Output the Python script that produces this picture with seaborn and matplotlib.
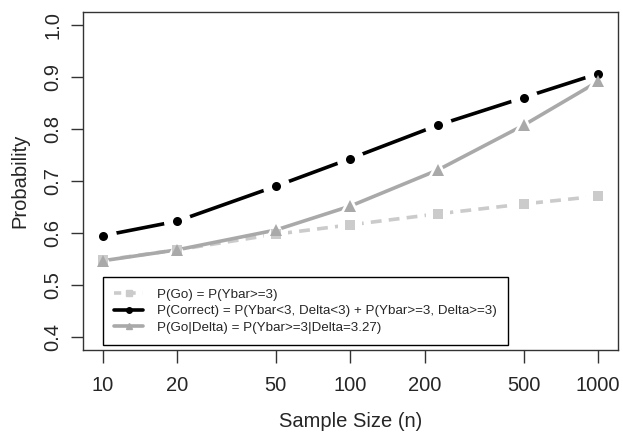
import numpy as np
import pandas as pd
import matplotlib
matplotlib.use("Agg")
import matplotlib.pyplot as plt
import seaborn as sns
from matplotlib.lines import Line2D

# values
sample_size = [10, 20, 50, 100, 225, 500, 1000]
p_go = [0.548, 0.568, 0.598, 0.616, 0.637, 0.656, 0.671]
p_correct = [0.595, 0.623, 0.690, 0.743, 0.807, 0.860, 0.906]
p_go_delta = [0.547, 0.568, 0.606, 0.652, 0.721, 0.807, 0.891]
x_ticks = [10, 20, 50, 100, 200, 500, 1000]
y_ticks = [0.4, 0.5, 0.6, 0.7, 0.8, 0.9, 1.0]
labels = ["P(Go) = P(Ybar>=3)",
          "P(Correct) = P(Ybar<3, Delta<3) + P(Ybar>=3, Delta>=3)",
          "P(Go|Delta) = P(Ybar>=3|Delta=3.27)"]

sns.set_style("ticks")
plt.rcParams["font.family"] = ["Liberation Sans", "DejaVu Sans"]

df = pd.DataFrame({"n": sample_size, "go": p_go,
                   "correct": p_correct, "go_delta": p_go_delta})

fig = plt.figure(figsize=(6.23, 4.32), dpi=100)
ax = fig.add_axes([0.133, 0.19, 0.859, 0.782])

light = "#cbcbcb"
mid = "#a9a9a9"

series = [("go", light, "s", (3, 2), 6.5, 2.6),
          ("correct", "black", "o", None, 6.5, 3.0),
          ("go_delta", mid, "^", None, 8, 2.2)]

z = 2
for col, c, m, dash, ms, halo in series:
    kw = dict(linestyle=(0, dash)) if dash else {}
    sns.lineplot(data=df, x="n", y=col, color=c, lw=2.6, ax=ax,
                 zorder=z, **kw)
    # white halo -> gaps around the points like an R type="b" line
    ax.plot(df["n"], df[col], ls="none", marker=m, ms=ms * halo,
            color="white", mew=0, zorder=z + 0.5)
    ax.plot(df["n"], df[col], ls="none", marker=m, ms=ms,
            color=c, mew=0, zorder=10 + z)
    z += 1

ax.set_xscale("log")
ax.set_xlim(10 ** 0.92, 10 ** 3.08)
ax.set_ylim(0.376, 1.024)
ax.set_xticks(x_ticks)
ax.set_xticklabels([str(t) for t in x_ticks])
ax.minorticks_off()
ax.set_yticks(y_ticks)
ax.set_yticklabels([f"{t:.1f}" for t in y_ticks], rotation=90, va="center")
ax.tick_params(labelsize=14.5, length=9, width=1, color="#333333", pad=6)
ax.tick_params(axis="x", pad=10)
for sp in ax.spines.values():
    sp.set_visible(True)
    sp.set_color("#333333")
    sp.set_linewidth(1)

ax.set_xlabel("Sample Size (n)", fontsize=14.5, labelpad=12)
ax.set_ylabel("Probability", fontsize=14.5, labelpad=10)

handles = [Line2D([], [], color=light, lw=2.6, linestyle=(0, (2, 2)),
                  marker="s", ms=4, markevery=[1]),
           Line2D([], [], color="black", lw=2.6, marker="o", ms=4),
           Line2D([], [], color=mid, lw=2.6, marker="^", ms=4)]
leg = ax.legend(handles, labels, loc="lower left",
                bbox_to_anchor=(0.037, 0.015), borderaxespad=0,
                fontsize=9.6, fancybox=False, framealpha=1,
                edgecolor="black", handlelength=2.2, handletextpad=1.0,
                borderpad=0.85, labelspacing=0.3)
leg.get_frame().set_linewidth(1)
leg.set_zorder(20)

fig.savefig("out.png", dpi=100)
